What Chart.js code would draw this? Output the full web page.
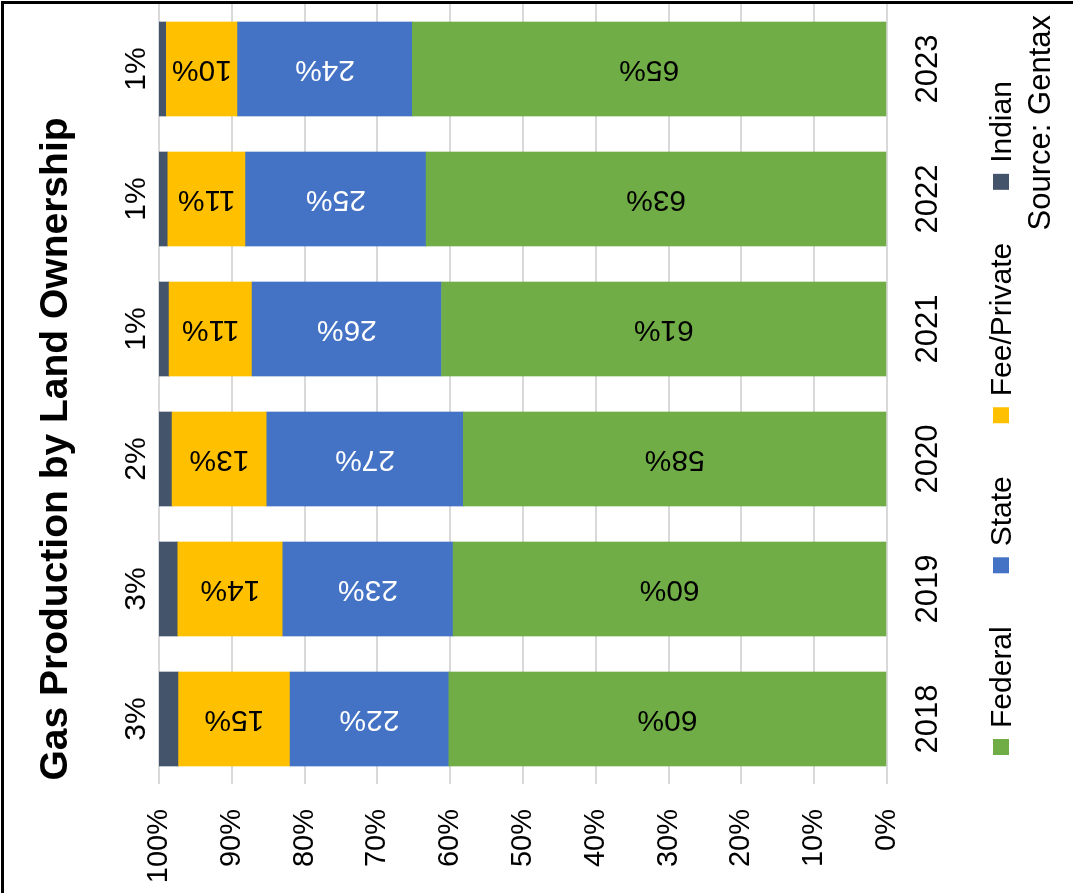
<!DOCTYPE html>
<html><head><meta charset="utf-8">
<script src="https://cdn.jsdelivr.net/npm/chart.js@4"></script>
<style>
html,body{margin:0;padding:0;background:#fff;}
#stage{position:relative;width:1073px;height:893px;overflow:hidden;background:#fff;}
#rot{position:absolute;left:0;top:0;width:893px;height:1073px;transform-origin:0 0;transform:translate(0px,893px) rotate(-90deg);}
#rot canvas{display:block;}
#frameTop{position:absolute;left:1px;top:1px;width:1072px;height:3px;background:#000;}
#frameLeft{position:absolute;left:1px;top:1px;width:3px;height:892px;background:#000;}
</style></head><body>
<div id="stage"><div id="rot"><canvas id="c" width="893" height="1073"></canvas></div><div id="frameTop"></div><div id="frameLeft"></div></div>
<script>
// ---- data ----
const years = ['2018', '2019', '2020', '2021', '2022', '2023'];
const federal = [60.2, 59.6, 58.2, 61.2, 63.3, 65.2];
const state = [21.8, 23.4, 27.0, 26.0, 24.8, 24.0];
const feePrivate = [15.3, 14.4, 13.0, 11.4, 10.7, 9.8];
const indian = [2.7, 2.6, 1.8, 1.4, 1.2, 1.0];
const seriesNames = ['Federal', 'State', 'Fee/Private', 'Indian'];
const yTickValues = [0, 10, 20, 30, 40, 50, 60, 70, 80, 90, 100];
const yTickLabels = ['0%', '10%', '20%', '30%', '40%', '50%', '60%', '70%', '80%', '90%', '100%'];
const titleText = 'Gas Production by Land Ownership';
const sourceText = 'Source: Gentax';

// ---- styles ----
const FONT = "'Liberation Sans', Arial, sans-serif";
const colors = ['#70AD47', '#4472C4', '#FFC000', '#44546A'];
const labelColors = ['#000000', '#FFFFFF', '#000000', '#000000'];

const overlayPlugin = {
  id: 'overlay',
  afterDatasetsDraw(chart) {
    const ctx = chart.ctx;
    ctx.save();
    chart.data.datasets.forEach((ds, di) => {
      const meta = chart.getDatasetMeta(di);
      meta.data.forEach((bar, i) => {
        const txt = Math.round(ds.data[i]) + '%';
        ctx.font = '30px ' + FONT;
        ctx.textAlign = 'center';
        ctx.textBaseline = 'middle';
        if (di === 3) {
          ctx.fillStyle = '#000';
          ctx.fillText(txt, bar.x, bar.y - 22);
        } else {
          const cy = (bar.y + bar.base) / 2;
          ctx.save();
          ctx.translate(bar.x, cy);
          ctx.rotate(-Math.PI / 2);
          ctx.fillStyle = labelColors[di];
          ctx.fillText(txt, 0, 0);
          ctx.restore();
        }
      });
    });
    ctx.restore();
  },
  afterDraw(chart) {
    const ctx = chart.ctx;
    ctx.save();
    // title
    ctx.fillStyle = '#000';
    ctx.font = 'bold 39px ' + FONT;
    ctx.textAlign = 'center';
    ctx.textBaseline = 'alphabetic';
    ctx.fillText(titleText, 444, 67);
    // legend
    ctx.font = '30px ' + FONT;
    ctx.textAlign = 'left';
    ctx.textBaseline = 'alphabetic';
    let x = 138;
    seriesNames.forEach((name, i) => {
      ctx.fillStyle = colors[i];
      ctx.fillRect(x, 993, 16, 16);
      x += 16 + 11;
      ctx.fillStyle = '#000';
      ctx.fillText(name, x, 1011);
      x += ctx.measureText(name).width + 53;
    });
    // source
    ctx.font = '31px ' + FONT;
    ctx.textAlign = 'right';
    ctx.fillText(sourceText, 878, 1050);
    ctx.restore();
  }
};

const ctx = document.getElementById('c').getContext('2d');
new Chart(ctx, {
  type: 'bar',
  data: {
    labels: years,
    datasets: [
      { label: seriesNames[0], data: federal, backgroundColor: colors[0] },
      { label: seriesNames[1], data: state, backgroundColor: colors[1] },
      { label: seriesNames[2], data: feePrivate, backgroundColor: colors[2] },
      { label: seriesNames[3], data: indian, backgroundColor: colors[3] }
    ]
  },
  options: {
    responsive: false,
    animation: false,
    devicePixelRatio: 1,
    layout: { padding: { left: 0, right: 4, top: 159, bottom: 0 } },
    datasets: { bar: { barThickness: 94 } },
    plugins: { legend: { display: false }, title: { display: false }, tooltip: { enabled: false } },
    scales: {
      x: {
        stacked: true,
        grid: { display: false },
        border: { display: false },
        ticks: { color: '#000', font: { size: 31, family: FONT }, padding: 15, maxRotation: 0 },
        afterFit(s) { s.height = 186; }
      },
      y: {
        stacked: true,
        min: 0,
        max: 100,
        afterBuildTicks(s) { s.ticks = yTickValues.map(v => ({ value: v })); },
        ticks: {
          color: '#000',
          font: { size: 29, family: FONT },
          padding: 25,
          callback: (v, idx) => yTickLabels[yTickValues.indexOf(v)]
        },
        grid: { color: '#D9D9D9', lineWidth: 2, drawTicks: false },
        border: { display: false },
        afterFit(s) { s.width = 109; }
      }
    }
  },
  plugins: [overlayPlugin]
});
</script>
</body></html>
